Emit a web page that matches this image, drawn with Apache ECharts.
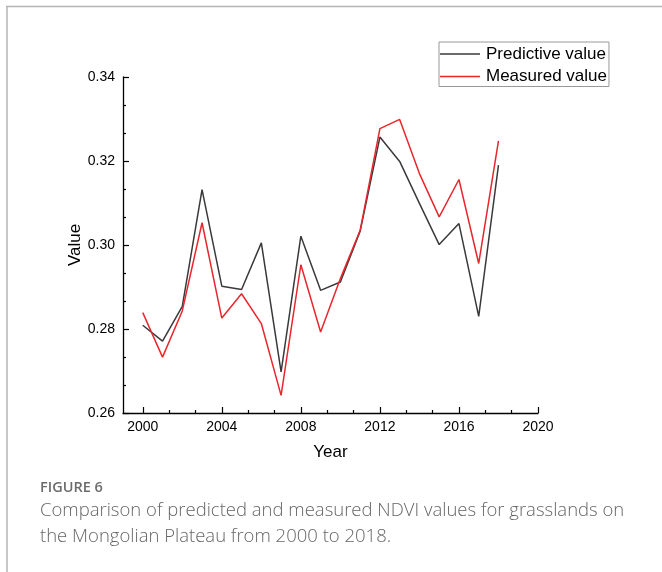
<!DOCTYPE html>
<html>
<head>
<meta charset="utf-8">
<script src="https://cdn.jsdelivr.net/npm/echarts@6/dist/echarts.min.js"></script>
<style>
html,body{margin:0;padding:0;background:#fff;}
#chart{width:662px;height:572px;}
</style>
</head>
<body>
<div id="chart"></div>
<script>
var years = [2000,2001,2002,2003,2004,2005,2006,2007,2008,2009,2010,2011,2012,2013,2014,2015,2016,2017,2018];
var predicted = [0.2809,0.2771,0.2854,0.3132,0.2902,0.2894,0.3005,0.2698,0.3021,0.2892,0.2912,0.3033,0.3257,0.3199,0.3099,0.3001,0.3051,0.2830,0.3190];
var measured = [0.2839,0.2733,0.2843,0.3053,0.2826,0.2884,0.2813,0.2642,0.2953,0.2793,0.2920,0.3035,0.3277,0.3299,0.3170,0.3067,0.3156,0.2956,0.3248];
var xMajorTicks = [2000,2004,2008,2012,2016,2020];
var xMinorTicks = [2001.3333,2002.6667,2005.3333,2006.6667,2009.3333,2010.6667,2013.3333,2014.6667,2017.3333,2018.6667];
var seriesNames = ['Predictive value','Measured value'];

function pairs(xs, ys){ return xs.map(function(x,i){ return [x, ys[i]]; }); }

var chart = echarts.init(document.getElementById('chart'), null, {renderer:'canvas'});
var FF = 'Liberation Sans, Arial, sans-serif';
chart.setOption({
  animation:false,
  backgroundColor:'#fff',
  grid:{left:123, top:77, width:415, height:336, containLabel:false},
  legend:{
    data:seriesNames,
    orient:'vertical',
    left:439, top:42,
    icon:'rect', itemWidth:40, itemHeight:1.5,
    itemGap:4.5,
    padding:[3,2,1,1],
    borderColor:'#999', borderWidth:1,
    textStyle:{fontFamily:FF, fontSize:17, color:'#000', lineHeight:18, padding:[0,0,0,1]}
  },
  xAxis:[{
    type:'value', min:1999, max:2020,
    name:'Year', nameLocation:'middle', nameGap:31, nameMoveOverlap:false,
    nameTextStyle:{fontFamily:FF, fontSize:17, color:'#000'},
    axisLine:{show:true, lineStyle:{color:'#000', width:1.3}},
    axisTick:{show:true, inside:true, length:6, customValues:xMajorTicks, lineStyle:{color:'#000', width:1.2}},
    axisLabel:{show:true, customValues:xMajorTicks, margin:7, formatter:function(v){return String(Math.round(v));}, fontFamily:FF, fontSize:14, color:'#000'},
    splitLine:{show:false}
  },{
    type:'value', min:1999, max:2020, position:'bottom',
    axisLine:{show:false},
    axisTick:{show:true, inside:true, length:3, customValues:xMinorTicks, lineStyle:{color:'#000', width:1.2}},
    axisLabel:{show:false},
    splitLine:{show:false}
  }],
  yAxis:{
    type:'value', min:0.26, max:0.34, interval:0.02,
    name:'Value', nameLocation:'middle', nameGap:39, nameRotate:90, nameMoveOverlap:false,
    nameTextStyle:{fontFamily:FF, fontSize:17, color:'#000'},
    axisLine:{show:true, lineStyle:{color:'#000', width:1.3}},
    axisTick:{show:true, inside:true, length:6, lineStyle:{color:'#000', width:1.2}},
    minorTick:{show:true, splitNumber:3, length:3, lineStyle:{color:'#000', width:1.2}},
    axisLabel:{margin:8, formatter:function(v){return v.toFixed(2);}, fontFamily:FF, fontSize:14, color:'#000'},
    splitLine:{show:false}, minorSplitLine:{show:false}
  },
  series:[{
    name:seriesNames[0], type:'line', xAxisIndex:0,
    data:pairs(years, predicted),
    showSymbol:false, symbol:'none',
    lineStyle:{color:'#3a3a3a', width:1.5},
    itemStyle:{color:'#3a3a3a'}
  },{
    name:seriesNames[1], type:'line', xAxisIndex:0,
    data:pairs(years, measured),
    showSymbol:false, symbol:'none',
    lineStyle:{color:'#e8262d', width:1.5},
    itemStyle:{color:'#e8262d'}
  }],
  graphic:[
    {type:'line', shape:{x1:6, y1:6.5, x2:662, y2:6.5}, style:{stroke:'#b5b5b5', lineWidth:1.5}, silent:true},
    {type:'line', shape:{x1:7, y1:6, x2:7, y2:572}, style:{stroke:'#b5b5b5', lineWidth:1.5}, silent:true},
    {type:'text', left:40, top:480, style:{text:'FIGURE 6', fill:'#6b6b6b', font:'600 14.5px "Open Sans", sans-serif'}},
    {type:'text', left:40, top:501, style:{text:'Comparison of predicted and measured NDVI values for grasslands on', fill:'#666', font:'300 18.5px "Open Sans", sans-serif'}},
    {type:'text', left:40, top:527, style:{text:'the Mongolian Plateau from 2000 to 2018.', fill:'#666', font:'300 18.5px "Open Sans", sans-serif'}}
  ]
});
</script>
</body>
</html>
